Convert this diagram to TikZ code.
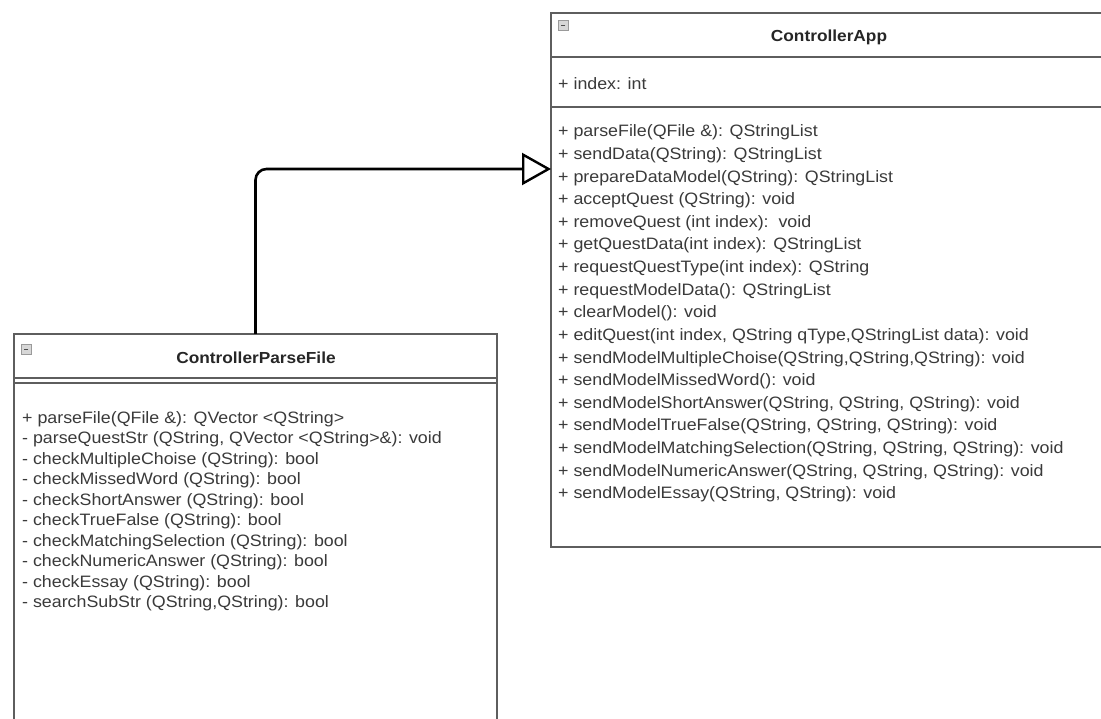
\documentclass[tikz,border=0pt]{standalone}
\usepackage{fontspec}
\setmainfont{Liberation Sans}[FakeStretch=1.08]
\usetikzlibrary{arrows.meta}
\definecolor{boxgray}{HTML}{5E5E5E}
\definecolor{txtgray}{HTML}{3A3A3A}
\definecolor{icongray}{HTML}{9A9A9A}
\begin{document}
\begin{tikzpicture}[x=1pt,y=-1pt,
  umlbox/.style={draw=boxgray, line width=1.6pt, rectangle, anchor=north west,
                 inner sep=0pt, outer sep=0pt, fill=white},
  divider/.style={draw=boxgray, line width=1.6pt},
  member/.style={anchor=base west, inner sep=0pt, text=txtgray,
                 font=\fontsize{16.5}{19}\selectfont},
  classname/.style={anchor=base, inner sep=0pt, text=black!85,
                    font=\bfseries\fontsize{16}{19}\selectfont},
  collapse/.style={draw=icongray, fill=icongray!40, line width=0.8pt,
                   minimum size=10pt, inner sep=0pt, anchor=north west},
  generalization/.style={draw=black, line width=2.6pt, rounded corners=11pt,
                         -{Triangle[open, length=29pt, width=32pt, line width=2.4pt]}}
]
\useasboundingbox (0,0) rectangle (1101,719);
\fill[white] (0,0) rectangle (1101,719);
\begin{scope}
\clip (0,0) rectangle (1101,719);

% ---------- class ControllerApp ----------
\node[umlbox, minimum width=565pt, minimum height=534pt] (app) at (551,13) {};
\draw[divider] (551,57) -- (1120,57);
\draw[divider] (551,107) -- (1120,107);
\node[collapse] (appicon) at (558,20) {};
\draw[black!70, line width=0.9pt] ([xshift=2pt]appicon.center) -- ([xshift=-2pt]appicon.center);
\node[classname] (apptitle) at (829,42) {ControllerApp};
\node[member] (appattr) at (558,90) {+ index: int};
\foreach \t [count=\i from 0] in {
  {+ parseFile(QFile \&): QStringList},
  {+ sendData(QString): QStringList},
  {+ prepareDataModel(QString): QStringList},
  {+ acceptQuest (QString): void},
  {+ removeQuest (int index):\ \ void},
  {+ getQuestData(int index): QStringList},
  {+ requestQuestType(int index): QString},
  {+ requestModelData(): QStringList},
  {+ clearModel(): void},
  {+ editQuest(int index, QString qType,QStringList data): void},
  {+ sendModelMultipleChoise(QString,QString,QString): void},
  {+ sendModelMissedWord(): void},
  {+ sendModelShortAnswer(QString, QString, QString): void},
  {+ sendModelTrueFalse(QString, QString, QString): void},
  {+ sendModelMatchingSelection(QString, QString, QString): void},
  {+ sendModelNumericAnswer(QString, QString, QString): void},
  {+ sendModelEssay(QString, QString): void}}
  \node[member] (appm\i) at (558,{137+22.6*\i}) {\t};

% ---------- class ControllerParseFile ----------
\node[umlbox, minimum width=483pt, minimum height=400pt] (pf) at (14,334) {};
\draw[divider] (14,378) -- (497,378);
\draw[divider] (14,383) -- (497,383);
\node[collapse] (pficon) at (21,344) {};
\draw[black!70, line width=0.9pt] ([xshift=2pt]pficon.center) -- ([xshift=-2pt]pficon.center);
\node[classname] (pftitle) at (256,363) {ControllerParseFile};
\foreach \t [count=\i from 0] in {
  {+ parseFile(QFile \&): QVector <QString>},
  {- parseQuestStr (QString, QVector <QString>\&): void},
  {- checkMultipleChoise (QString): bool},
  {- checkMissedWord (QString): bool},
  {- checkShortAnswer (QString): bool},
  {- checkTrueFalse (QString): bool},
  {- checkMatchingSelection (QString): bool},
  {- checkNumericAnswer (QString): bool},
  {- checkEssay (QString): bool},
  {- searchSubStr (QString,QString): bool}}
  \node[member] (pfm\i) at (22,{423+20.5*\i}) {\t};
\end{scope}

% ---------- generalization ControllerParseFile -> ControllerApp ----------
\coordinate (level) at (0,169);
\draw[generalization] (pf.north) |- (app.west |- level);
\end{tikzpicture}
\end{document}
